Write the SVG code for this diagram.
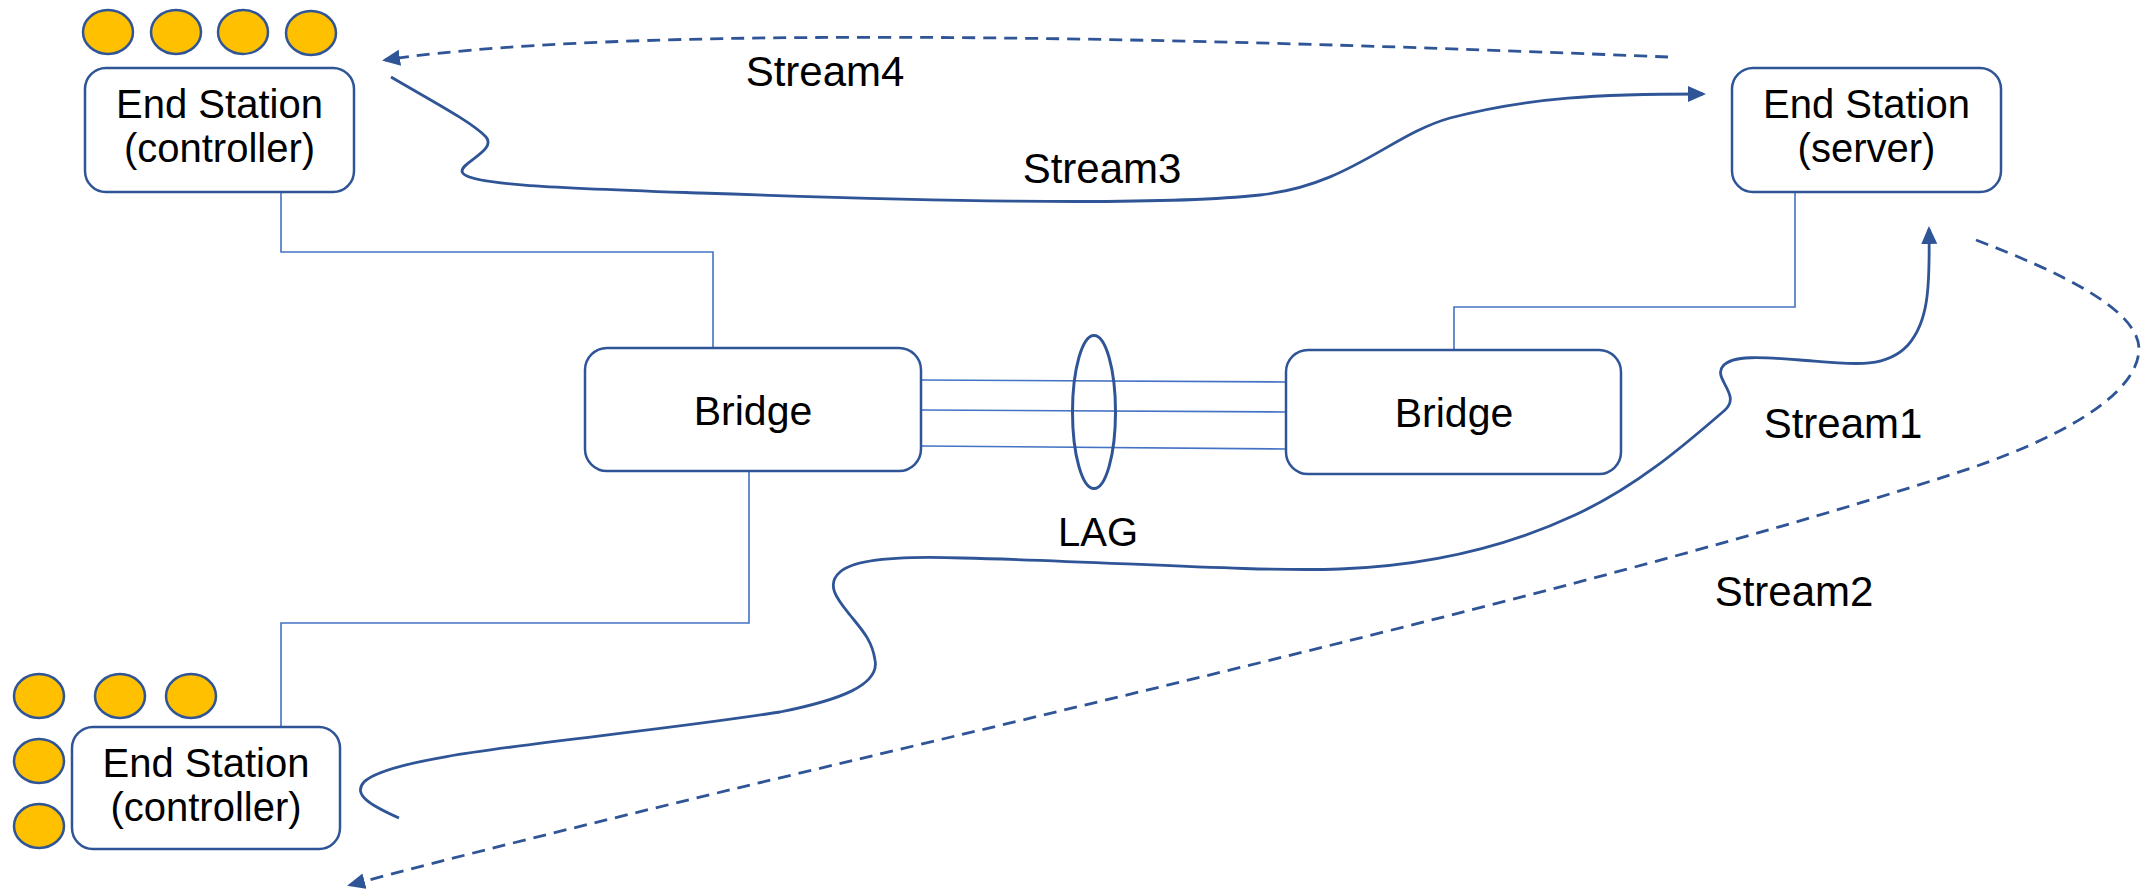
<svg xmlns="http://www.w3.org/2000/svg" width="2141" height="889" viewBox="0 0 2141 889">
<style>
.box{fill:#fff;stroke:#2F5597;stroke-width:2.5}
.dot{fill:#FFC000;stroke:#2F5597;stroke-width:2.5}
.lbl{font-family:"Liberation Sans",Arial,sans-serif;font-size:40px;fill:#000;text-anchor:middle}
.slbl{font-family:"Liberation Sans",Arial,sans-serif;font-size:42px;fill:#000;text-anchor:middle}
.link{fill:none;stroke:#4472C4;stroke-width:1.6}
.stream{fill:none;stroke:#2F5597;stroke-width:2.8}
.dash{stroke-dasharray:13 8}
</style>
<defs>
<marker id="arr" markerUnits="userSpaceOnUse" markerWidth="18" markerHeight="18" viewBox="0 0 18 16" refX="15" refY="8" orient="auto">
<path d="M0,0 L18,8 L0,16 z" fill="#2F5597"/>
</marker>
</defs>
<rect width="2141" height="889" fill="#fff"/>

<g id="links">
<path class="link" d="M281,192 V252 H713 V348"/>
<path class="link" d="M1454,350 V307 H1795 V192"/>
<path class="link" d="M749,471 V623 H281 V727"/>
<path class="link" d="M921,380 L1286,382"/>
<path class="link" d="M921,410 L1286,412"/>
<path class="link" d="M921,446 L1286,449"/>
</g>

<g id="es-controller-top">
<ellipse class="dot" cx="108" cy="32" rx="25" ry="22"/>
<ellipse class="dot" cx="176" cy="32" rx="25" ry="22"/>
<ellipse class="dot" cx="243" cy="32" rx="25" ry="22"/>
<ellipse class="dot" cx="311" cy="33" rx="25" ry="22"/>
<rect class="box" x="85" y="68" width="269" height="124" rx="21"/>
<text class="lbl" x="219.5" y="118">End Station</text>
<text class="lbl" x="219.5" y="162">(controller)</text>
</g>

<g id="es-server">
<rect class="box" x="1732" y="68" width="269" height="124" rx="21"/>
<text class="lbl" x="1866.5" y="118">End Station</text>
<text class="lbl" x="1866.5" y="162">(server)</text>
</g>

<g id="es-controller-bottom">
<ellipse class="dot" cx="39" cy="696" rx="25" ry="22"/>
<ellipse class="dot" cx="120" cy="696" rx="25" ry="22"/>
<ellipse class="dot" cx="191" cy="696" rx="25" ry="22"/>
<ellipse class="dot" cx="39" cy="761" rx="25" ry="22"/>
<ellipse class="dot" cx="39" cy="826" rx="25" ry="22"/>
<rect class="box" x="72" y="727" width="268" height="122" rx="21"/>
<text class="lbl" x="206" y="777">End Station</text>
<text class="lbl" x="206" y="821">(controller)</text>
</g>

<g id="bridge-left">
<rect class="box" x="585" y="348" width="336" height="123" rx="22"/>
<text class="lbl" x="753" y="425" style="font-size:41px">Bridge</text>
</g>

<g id="bridge-right">
<rect class="box" x="1286" y="350" width="335" height="124" rx="22"/>
<text class="lbl" x="1454" y="427" style="font-size:41px">Bridge</text>
</g>

<g id="lag">
<ellipse cx="1094" cy="412" rx="21.5" ry="76.5" fill="none" stroke="#2F5597" stroke-width="3"/>
<text class="lbl" x="1098" y="546">LAG</text>
</g>

<g id="streams">
<path class="stream dash" marker-end="url(#arr)" d="M1668,57 C1300,42 650,20 385,60"/>
<path class="stream" marker-end="url(#arr)" d="M391,77 C430,100 472,122 486,137 C497,150 462,162 462,171 C462,185 560,188 700,193 C900,200 1150,207 1260,195 C1350,185 1390,135 1450,118 C1530,97 1600,94 1703,94"/>
<path class="stream" marker-end="url(#arr)" d="M399,818 C372,806 352,795 364,782 C395,752 600,740 780,712 C840,700 880,685 875,660 C872,640 862,630 850,615 C838,600 825,585 840,572 C855,558 905,556 962,558 C1100,561 1250,572 1340,569 C1420,566 1500,550 1575,515 C1640,485 1690,440 1725,410 C1742,395 1712,378 1723,366 C1732,355 1762,357 1800,360 C1850,364 1885,370 1908,345 C1928,322 1930,290 1929,229"/>
<path class="stream dash" marker-end="url(#arr)" d="M1976,240 C2060,272 2140,310 2139,350 C2137,395 2060,440 1950,475 C1500,620 800,765 350,885"/>
<text class="slbl" x="825" y="86">Stream4</text>
<text class="slbl" x="1102" y="183">Stream3</text>
<text class="slbl" x="1843" y="438">Stream1</text>
<text class="slbl" x="1794" y="606">Stream2</text>
</g>
</svg>
